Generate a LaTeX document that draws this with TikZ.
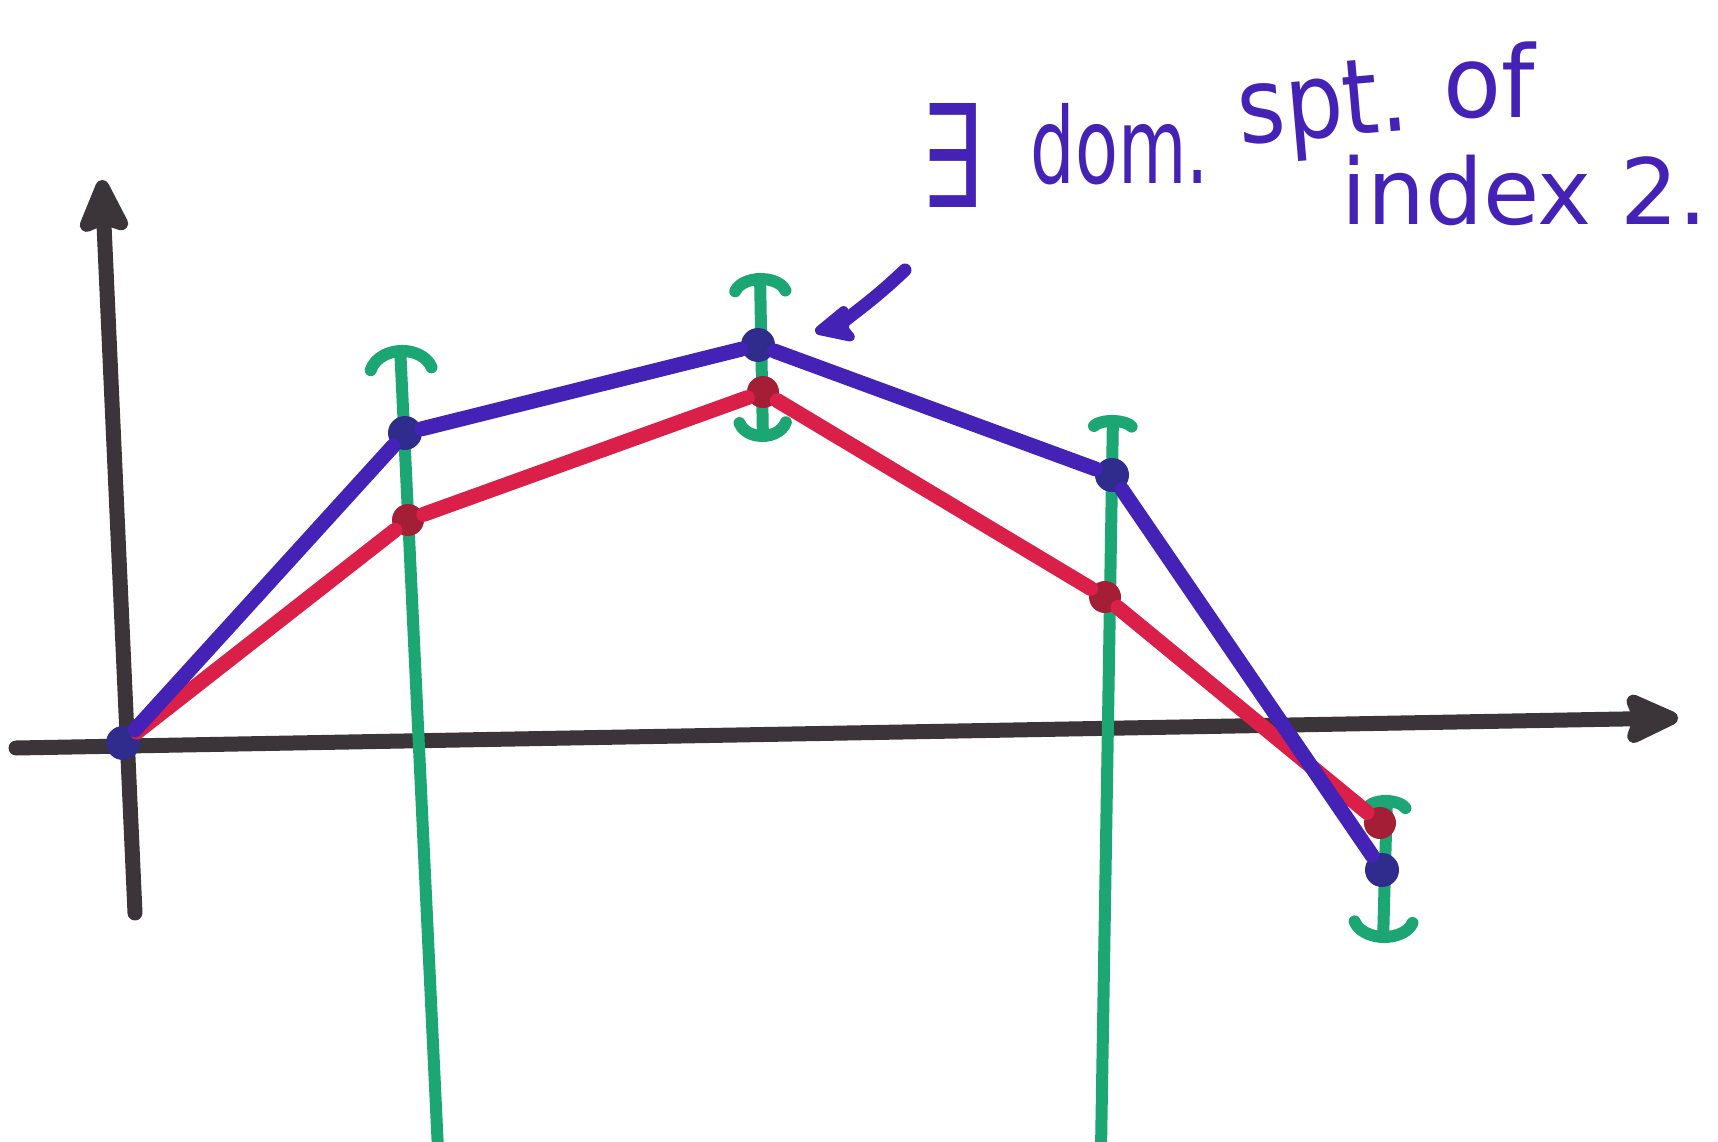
\documentclass[tikz,border=0pt]{standalone}
\usepackage{fontspec}
\newfontfamily\markerfont{DejaVu Sans}
\usepackage{graphicx}
\usepackage{xcolor}
\definecolor{ink}{HTML}{3B3539}
\definecolor{mblue}{HTML}{4322B5}
\definecolor{mred}{HTML}{DA1F48}
\definecolor{mgreen}{HTML}{1CA673}
\definecolor{dblue}{HTML}{2F2C8E}
\definecolor{dred}{HTML}{A41E36}
\usetikzlibrary{arrows.meta,backgrounds}
\newcommand{\tallword}[3]{\scalebox{1}[#2]{\fontsize{#1}{#1}\selectfont #3}}
\tikzset{
  axis/.style={draw=ink,line width=1.5mm,line cap=round,-{Stealth[length=6.5mm,width=5.8mm,inset=1mm,round]}},
  bline/.style={draw=mblue,line width=1.5mm,line cap=round,line join=round},
  rline/.style={draw=mred,line width=1.5mm,line cap=round,line join=round},
  gline/.style={draw=mgreen,line width=1.2mm,line cap=round},
  bdot/.style={circle,fill=dblue,inner sep=0pt,minimum size=3.4mm},
  rdot/.style={circle,fill=dred,inner sep=0pt,minimum size=3.2mm},
  lab/.style={text=mblue,font=\markerfont,inner sep=0pt,anchor=base west},
  ptr/.style={draw=mblue,line width=1.3mm,line cap=round,-{Stealth[length=4.8mm,width=4.5mm,inset=1mm,round]}},
}
\begin{document}
\begin{tikzpicture}[x=0.1mm,y=-0.1mm]
\useasboundingbox (0,0) rectangle (1718,1142);
\node[bdot] (o) at (123,743) {};
\node[rdot] (r1) at (408,520) {};
\node[rdot] (r2) at (763,392) {};
\node[rdot] (r3) at (1105,597) {};
\node[rdot] (r4) at (1380,823) {};
\node[bdot] (b1) at (405,433) {};
\node[bdot] (b2) at (758,345) {};
\node[bdot] (b3) at (1112,475) {};
\node[bdot] (b4) at (1382,870) {};
\coordinate (yb) at (135,913); \coordinate (yt) at (102,180);
\coordinate (xl) at (16,748); \coordinate (xr) at (1678,718);
\coordinate (g1b) at (438,1150); \coordinate (g1t) at (400,345);
\coordinate (g2b) at (763,442); \coordinate (g2t) at (760,273);
\coordinate (g3b) at (1101,1150); \coordinate (g3t) at (1113,415);
\coordinate (g4b) at (1383,943); \coordinate (g4t) at (1387,795);
\coordinate (pt) at (905,270);
\begin{scope}[on background layer]
\draw[axis] (yb) -- (yt);
\draw[axis] (xl) -- (xr);
\draw[gline,-{Arc Barb[arc=150,width=7.5mm,length=3mm,round]}] (g1b) -- (g1t);
\draw[gline,{Arc Barb[arc=150,width=6mm,length=2.4mm,round]}-{Arc Barb[arc=150,width=6.4mm,length=2.2mm,round]}] (g2b) -- (g2t);
\draw[gline,-{Arc Barb[arc=140,width=5.2mm,length=1.4mm,round]}] (g3b) -- (g3t);
\draw[gline,{Arc Barb[arc=150,width=7.2mm,length=2.6mm,round]}-{Arc Barb[arc=140,width=5.2mm,length=1.6mm,round]}] (g4b) -- (g4t);
\end{scope}
\draw[rline] (o) -- (r1) -- (r2) -- (r3) -- (r4);
\draw[bline] (o) -- (b1) -- (b2) -- (b3) -- (b4);
\node[lab] (ex) at (920,207) {\tallword{28}{1.45}{∃}};
\node[lab] (dom) at (1030,183) {\tallword{20}{1.5}{dom.}};
\node[lab,rotate=5] (spt) at (1240,145) {\tallword{26}{1.15}{spt.}};
\node[lab] (of) at (1443,117) {\tallword{27}{1.05}{of}};
\node[lab] (idx) at (1341,224) {\fontsize{26}{26}\selectfont index 2.};
\draw[ptr,shorten >=4.1mm] (pt) to[bend left=15] (b2);
\end{tikzpicture}
\end{document}
